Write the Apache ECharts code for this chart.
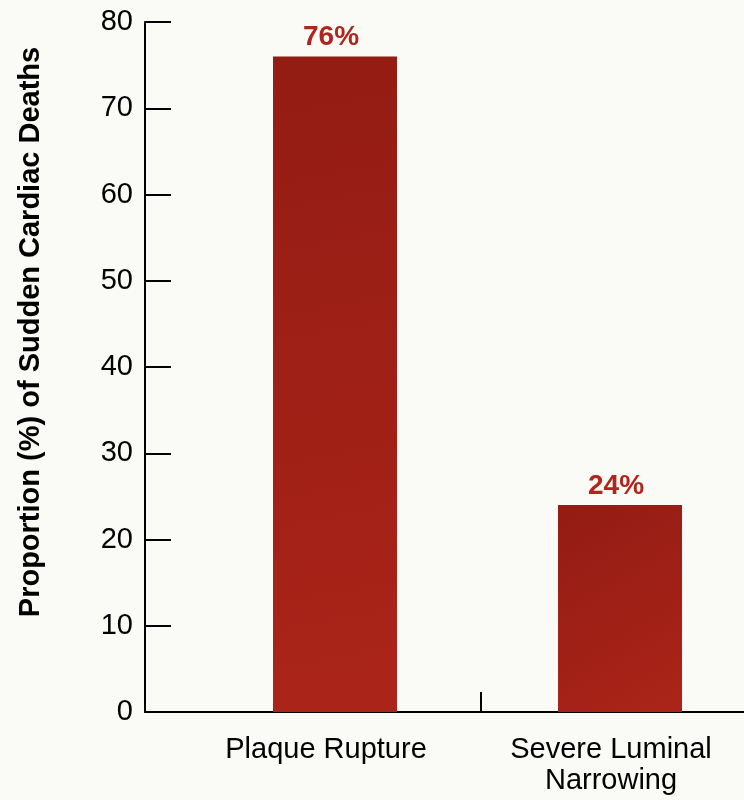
<!DOCTYPE html>
<html>
<head>
<meta charset="utf-8">
<script src="https://cdn.jsdelivr.net/npm/echarts@6/dist/echarts.min.js"></script>
<style>
  html, body { margin: 0; padding: 0; background: #fafaf6; }
  #chart { width: 744px; height: 800px; }
</style>
</head>
<body>
<div id="chart"></div>
<script>
const categories = ['Plaque Rupture', 'Severe Luminal\nNarrowing'];
const values = [76, 24];
const yTickValues = [0, 10, 20, 30, 40, 50, 60, 70, 80];
const yAxisTitle = 'Proportion (%) of Sudden Cardiac Deaths';

const chart = echarts.init(document.getElementById('chart'), null, { renderer: 'canvas' });
const FONT = '"Liberation Sans", Arial, Helvetica, sans-serif';

chart.setOption({
  backgroundColor: '#fafaf6',
  animation: false,
  grid: { left: 145, right: 0, top: 22, bottom: 88, containLabel: false },
  xAxis: {
    type: 'value',
    min: 1 / 3,
    max: 2.435,
    splitLine: { show: false },
    axisLine: { show: true, lineStyle: { color: '#000', width: 2 } },
    axisTick: {
      show: true, inside: true, length: 20,
      customValues: [1.51],
      lineStyle: { color: '#000', width: 2 }
    },
    axisLabel: {
      customValues: categories.map((c, i) => i + 1),
      formatter: v => categories[Math.round(v) - 1] || '',
      fontFamily: FONT, fontSize: 29, color: '#000',
      lineHeight: 31, margin: 22, padding: [0, 18, 0, 0]
    }
  },
  yAxis: {
    type: 'value',
    min: yTickValues[0],
    max: yTickValues[yTickValues.length - 1],
    interval: 10,
    splitLine: { show: false },
    axisLine: { show: true, lineStyle: { color: '#000', width: 2 } },
    axisTick: { show: true, inside: true, length: 26, lineStyle: { color: '#000', width: 2 } },
    axisLabel: { fontFamily: FONT, fontSize: 29, color: '#000', margin: 12 },
    name: yAxisTitle,
    nameLocation: 'middle',
    nameRotate: 90,
    nameGap: 100,
    nameTextStyle: {
      fontFamily: FONT, fontSize: 29, fontWeight: 'bold', color: '#000',
      padding: [0, 0, 0, 70]
    }
  },
  series: [{
    type: 'bar',
    data: values.map((v, i) => [i + 1, v]),
    barWidth: 124,
    itemStyle: {
      color: new echarts.graphic.LinearGradient(0, 0, 1, 1, [
        { offset: 0, color: '#931c13' },
        { offset: 1, color: '#ab2419' }
      ])
    },
    label: {
      show: true, position: 'top', distance: 5, offset: [-4, 0],
      formatter: p => p.value[1] + '%',
      fontFamily: FONT, fontSize: 28, fontWeight: 'bold', color: '#b0261c'
    }
  }]
});
</script>
</body>
</html>
